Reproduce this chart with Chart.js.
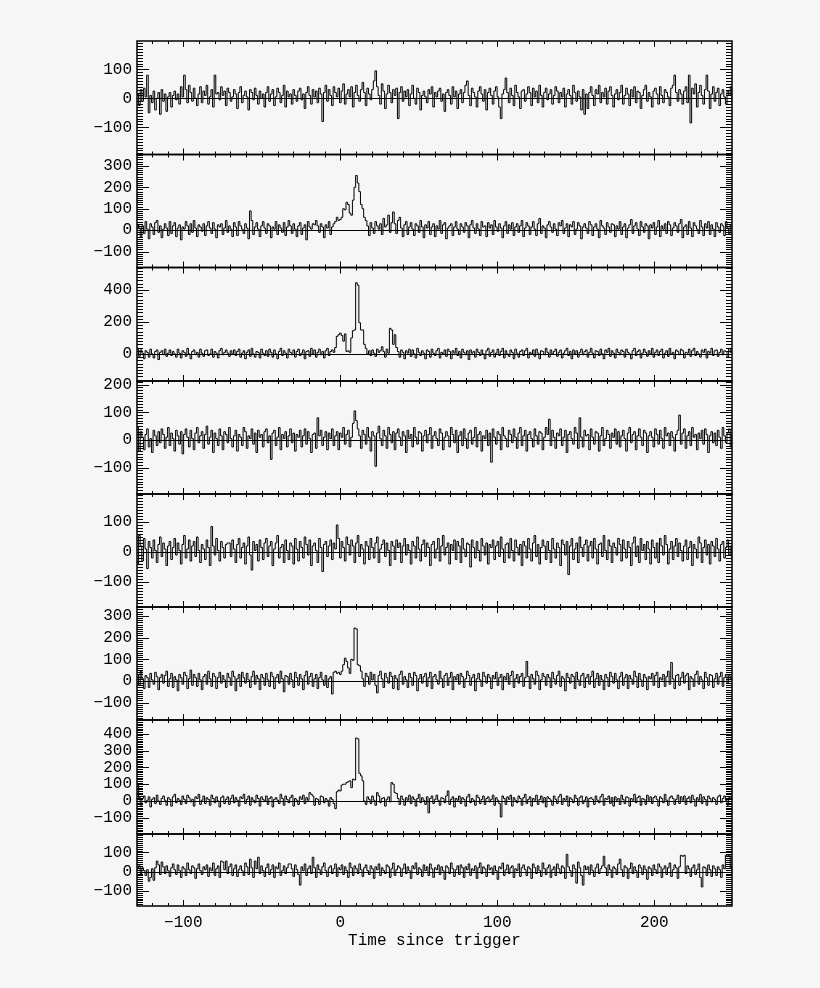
<!DOCTYPE html>
<html>
<head>
<meta charset="utf-8">
<script src="https://cdn.jsdelivr.net/npm/chart.js@4.4.1/dist/chart.umd.min.js"></script>
<style>
  html, body { margin: 0; padding: 0; background: #f6f6f6; }
  #c { display: block; }
</style>
</head>
<body>
<canvas id="c" width="820" height="988"></canvas>
<script>
// time bins, seconds since trigger
const binStart = -129.5;
const binWidth = 1.024;

// counts per bin, one array per detector panel (top to bottom)
const ch1 = [
  15, -25, 30, -10, 35, 5, 80, -50, 10, -15, 25, -40, 0, 20, -55, 30, -10, 15, -45, 5,
  20, -30, 10, 25, -5, 15, -20, 40, 5, 80, 30, -15, 45, 20, -10, 35, 0, -25, 15, 40,
  -15, 25, 10, 45, -20, 5, 30, -30, 80, 15, 20, -5, 40, 10, 25, -25, 35, 20, -10, 5,
  30, 15, -35, 20, 40, -15, 10, 25, 5, -40, 30, 20, -5, 35, 10, -20, 25, 0, 15, -30,
  20, 40, -10, 15, 30, -25, 5, 35, 20, -15, 10, 45, -30, 25, 5, 15, -20, 30, 10, -10,
  25, 35, -5, 15, -35, 20, 40, 10, -20, 30, 5, 25, -15, 35, 15, -80, 20, 45, -10, 30,
  10, -25, 40, 20, 5, 35, -15, 25, 50, -20, 15, 30, 5, 40, -30, 20, 45, 10, -10, 30,
  55, 20, -25, 35, 15, -5, 30, 60, 95, 40, 10, -20, 50, 25, -35, 15, 45, 20, -15, 30,
  10, 35, -70, 20, 40, -10, 25, 5, 30, -25, 15, 45, 0, -20, 35, 20, -40, 10, 25, 5,
  -15, 30, 15, 40, -30, 20, 5, 25, 35, -10, 15, -45, 20, 30, 10, -20, 40, 5, 25, -35,
  15, 30, -15, 20, 45, 60, 10, -25, 35, 20, 5, -30, 25, 40, 15, -10, 30, -40, 20, 35,
  10, -20, 25, 40, 5, -30, -70, 15, 30, 70, 20, -15, 35, 10, -25, 45, 20, 5, -35, 25,
  30, -10, 15, 40, 20, -25, 35, 5, 25, -15, 45, 10, -30, 20, 35, -5, 15, 30, -20, 10,
  40, 25, -15, 20, 5, 35, -30, 15, 30, 10, -20, 45, 20, -10, 25, 5, -40, 30, -55, 15,
  -35, 20, 40, 10, -25, 30, 15, 45, -15, 20, 5, 35, -20, 25, 40, 10, -30, 15, 30, -5,
  20, 45, -20, 10, 35, 15, -25, 30, 5, 40, -15, 25, 20, -35, 10, 30, 45, -10, 20, 5,
  -30, 25, 35, 15, -20, 40, 10, -15, 30, 20, 5, -25, 35, 45, 80, 20, -10, 30, 15, -20,
  25, 40, -15, 80, -85, 35, 15, 50, -30, 20, 45, 10, -20, 30, 80, 25, -35, 15, 40, -10,
  20, 35, -25, 15, 30, 5, -20, 25, 10, 40, -15
];
const ch2 = [
  25, 10, -30, 20, -15, 40, 5, -40, 30, 15, -20, 35, 45, -10, 20, -35, 5, 30, 10, -25,
  40, -15, 20, 35, -30, 10, 25, -45, 15, 5, 40, 20, -20, 30, -10, 45, 10, -30, 25, 15,
  -5, 30, -25, 20, 40, 10, -15, 35, 5, -35, 25, 15, 30, -20, 10, 45, -10, 20, 5, -30,
  35, 15, -25, 40, 20, 5, -15, 30, 10, -40, 90, 45, -20, 15, 35, 5, -30, 20, 40, 10,
  -15, 30, 20, -35, 15, 5, 40, -20, 25, 10, -10, 35, -25, 15, 45, 20, -15, 30, 5, -30,
  20, 35, -20, 10, 25, -45, 40, 15, 5, 30, 25, 45, 20, -10, 30, 15, -35, 25, 10, 40,
  -20, 15, 30, 40, 60, 45, 50, 60, 100, 95, 130, 120, 80, 70, 140, 200, 255, 220, 180, 120,
  100, 60, 45, 20, -25, 35, 10, -15, 40, 20, 5, 30, -20, 55, 15, 25, 70, -10, 35, 85,
  30, -15, 45, 60, 10, -30, 25, 40, -20, 15, 35, 5, -25, 30, 20, -10, 45, 15, -35, 25,
  10, 40, -20, 15, 30, -30, 20, 5, 45, -15, 25, 35, -40, 10, 20, 30, -25, 15, 40, 5,
  -20, 30, 15, -10, 35, 20, -35, 25, 45, 10, -15, 30, 5, -25, 40, 15, 20, -30, 35, 10,
  25, -20, 45, 15, -5, 30, 10, -35, 20, 40, -15, 25, 5, 35, -25, 15, 30, -10, 20, 45,
  -30, 10, 35, 20, -20, 15, 40, 5, -25, 30, 55, -15, 20, 10, -35, 25, 40, 15, -10, 30,
  5, -25, 35, 20, 45, -15, 10, 30, -30, 25, 15, 40, -20, 5, 35, 20, -40, 15, 30, 10,
  -15, 40, 25, -25, 15, 30, 5, -35, 45, 20, 10, -20, 35, 15, -10, 30, 25, -30, 20, 5,
  40, -20, 15, 30, -35, 10, 25, 50, -15, 20, 35, 5, -25, 40, 15, -10, 30, 20, -40, 25,
  10, 35, -20, 15, 45, -30, 20, 5, 30, -15, 40, 25, -25, 10, 35, 20, -10, 30, 50, -35,
  15, 25, -20, 40, 10, -30, 35, 20, 5, -15, 45, 15, -25, 30, 10, 40, -20, 25, 5, -30,
  35, 15, -10, 30, 20, -25, 40, 10, -15, 25, 30
];
const ch3 = [
  35, -15, 25, 5, -30, 20, 10, -20, 30, 0, -25, 15, 25, -35, 10, 20, -5, 30, -15, 5,
  25, -10, 15, 0, -20, 30, 5, -25, 20, 10, -15, 35, 0, -30, 15, 25, -5, 10, -20, 30,
  5, -15, 20, 25, -10, 0, 30, -20, 15, 5, -25, 20, 35, -5, 10, 25, 5, -15, 20, 0,
  25, -10, 15, 30, -20, 5, 20, -30, 10, 25, -15, 35, 0, -20, 15, 10, -25, 30, 5, -10,
  20, -15, 30, 10, -20, 25, 0, -30, 15, 35, -10, 20, 5, -25, 30, 10, -5, 25, -20, 15,
  30, -10, 5, 25, -30, 15, 20, -15, 35, 0, 25, -20, 10, 30, -5, 15, -25, 20, 35, -10,
  15, 25, 10, 40, 110, 120, 130, 115, 80, 125, 15, 20, 10, 100, 145, 150, 445, 430, 195, 150,
  150, 60, 35, 0, 20, -10, 25, 5, -15, 30, 10, 20, 45, 15, -20, 30, 5, 160, 150, 60,
  120, 40, 15, -20, 25, 10, -30, 20, 5, 30, -15, 25, 0, -25, 35, 10, -10, 20, 5, -30,
  25, 15, -20, 30, 5, -10, 20, 35, -25, 10, 0, 25, -15, 30, 15, -30, 20, 5, 35, -10,
  15, -25, 30, 10, -5, 20, -35, 25, 5, 15, -20, 30, 10, -10, 25, 0, -30, 20, 35, -15,
  10, 25, -20, 5, 30, -10, 15, 35, -25, 20, 0, -15, 25, 10, -30, 30, 5, -20, 15, 25,
  -10, 20, 35, -25, 10, 0, 25, -15, 30, 5, -30, 20, 15, -5, 35, 10, -20, 25, 0, 15,
  30, -15, 10, 25, -25, 5, 20, 35, -10, 15, -30, 25, 0, 20, -20, 10, 30, -5, 15, 25,
  -20, 10, 35, 5, -25, 20, 15, -10, 30, 0, -30, 25, 10, 35, -15, 20, 5, -25, 30, 10,
  -5, 25, 15, -20, 30, 10, 0, -30, 20, 35, -10, 15, 25, -25, 5, 30, 10, -15, 20, 0,
  35, -20, 10, 25, -10, 15, 30, -25, 5, 20, -15, 35, 0, 10, -30, 25, 15, -5, 30, 20,
  -25, 10, 5, 30, -15, 20, 35, -10, 15, 0, -20, 25, 10, 30, -25, 15, 5, 35, -10, 20,
  25, -15, 10, 30, -5, 20, 15, -20, 35, 10, 25
];
const ch4 = [
  45, -40, 30, 10, -35, 20, 40, -25, 5, -45, 35, 15, -20, 30, -10, 40, 20, -30, 10, 45,
  -20, 25, 5, -40, 35, 15, -15, 30, -50, 20, 40, 10, -25, 35, 5, -35, 25, 45, -10, 15,
  30, -30, 20, 50, -15, 10, 35, -45, 25, 5, -20, 40, 15, -35, 30, 20, -10, 45, 5, -25,
  15, 35, -40, 20, 10, -20, 45, 30, -30, 15, 5, 40, -15, 25, -45, 35, 10, 20, -25, 30,
  40, -10, 15, -70, 25, 35, -20, 10, 45, -35, 20, 5, 30, -25, 15, 40, -10, 25, -40, 20,
  10, 35, -25, 15, 40, -15, 30, 5, -45, 20, 25, -30, 80, 15, 35, -20, 10, 30, -35, 25,
  5, 40, -20, 15, 30, -35, 25, 10, 45, -15, 20, 35, -25, 10, 60, 105, 70, 40, 15, -30,
  35, 20, -15, 45, 10, -40, 30, 15, -95, 25, 50, 5, -20, 35, 15, -30, 45, 20, -10, 30,
  -35, 25, 40, 10, -20, 30, 15, -45, 35, 5, 20, -25, 45, 10, -15, 30, 25, -40, 15, 35,
  -10, 20, 45, -30, 15, 30, 5, -20, 40, 25, -35, 10, 30, 15, -25, 45, 20, -10, 35, -45,
  15, 30, -20, 40, 5, -30, 25, 35, -15, 10, 45, -25, 20, 30, -40, 15, 5, 35, -20, 25,
  -80, 40, 10, -15, 30, 20, -35, 45, 15, 5, -25, 35, 20, -10, 40, 10, -30, 25, 45, -20,
  15, 35, -40, 20, 30, 5, -25, 40, 15, -15, 30, 25, -35, 10, 45, 20, 75, -20, 35, 10,
  -30, 25, 15, 40, -20, 10, 35, -45, 20, 30, 5, -15, 45, 25, -30, 80, 10, -25, 35, 15,
  20, -35, 40, 10, -15, 30, 25, -40, 15, 45, -20, 5, 35, 20, -30, 25, 10, 40, -15, 30,
  -25, 15, 35, 5, -40, 25, 45, -10, 20, 30, -35, 15, 40, 10, -20, 35, 25, -45, 15, 30,
  10, -25, 40, 20, -15, 35, 5, -30, 45, 15, 25, -20, 30, 10, -40, 20, 35, 90, -15, 25,
  40, -30, 15, 30, -20, 45, 10, 20, -35, 25, 5, 35, -15, 40, 20, -45, 15, 30, -10, 25,
  -20, 35, 10, -30, 45, 15, -10, 25, 40, -25, 20
];
const ch5 = [
  -40, 55, 20, -30, 45, 10, -55, 35, 15, -20, 40, 5, -35, 25, 50, -15, 30, 10, -45, 20,
  35, -25, 15, 45, -10, 30, 5, -40, 25, 55, -20, 10, 40, -30, 20, 35, -15, 50, 5, -35,
  25, 10, -25, 40, 15, -45, 85, 20, -10, 45, 5, -30, 35, 15, -20, 25, 30, 30, -15, 40,
  10, -35, 25, 45, -20, 15, 30, -40, 20, 50, -10, -60, 35, 5, 25, -30, 40, 15, -25, 30,
  45, -15, 20, 35, -45, 10, 30, 55, -20, 15, 25, -35, 40, 5, -25, 30, 20, -40, 45, 10,
  -30, 35, 15, -20, 50, 25, -10, 40, -45, 20, 30, 5, -35, 45, 15, -65, 25, 35, -15, 20,
  40, -25, 30, 10, 90, 45, -20, 35, 15, -30, 50, 25, -10, 40, 20, -35, 30, 55, -15, 25,
  10, -40, 35, 20, -25, 45, 15, -20, 30, 50, -35, 10, 25, 40, -15, 30, 5, -45, 35, 20,
  -25, 40, 15, 30, -35, 20, 45, -10, 25, 5, -40, 35, 20, -20, 50, 10, -30, 25, 40, -15,
  30, 15, -45, 25, 35, -20, 10, 45, -30, 20, 55, -10, 15, 30, -40, 25, 5, 40, -25, 35,
  20, -35, 45, 10, -15, 30, 25, -50, 40, 15, -20, 35, 5, -30, 45, 20, -10, 30, -40, 25,
  15, 40, -25, 20, 35, -15, 50, 10, -35, 25, 30, -20, 45, 5, -30, 40, 15, -10, 25, -45,
  35, 20, -20, 45, 10, -30, 30, 55, -15, 25, -40, 15, 40, 20, -25, 35, 5, -35, 45, 10,
  -20, 30, 15, -45, 40, 25, -10, 35, -75, 20, 45, -25, 10, 30, -35, 50, 15, -15, 25, 40,
  -30, 20, 35, -20, 45, 10, -40, 25, 30, -15, 55, 5, -25, 40, 20, -35, 30, 15, -10, 45,
  25, -30, 40, 10, -20, 35, 15, -45, 30, 50, -15, 20, -35, 45, 5, 25, -25, 35, 10, -40,
  40, 15, -20, 30, -35, 45, 20, -10, 55, 25, -40, 10, 35, -25, 20, 45, -15, 30, 5, -30,
  20, 40, -25, 15, 35, -45, 25, 10, -20, 50, 30, -35, 15, 40, -10, 25, -40, 35, 20, -15,
  45, 10, -30, 25, 35, -20, 15, 40, -10, 20, -25
];
const ch6 = [
  30, -20, 45, 10, -35, 25, 15, -30, 35, 5, -15, 40, 20, -40, 15, 30, -10, 25, 45, -25,
  10, 35, -30, 20, 5, -45, 30, 15, -15, 40, 25, -35, 10, 50, -20, 30, 15, -25, 35, 5,
  -40, 20, 30, -15, 45, 10, -25, 35, 20, -35, 15, 40, -10, 25, 5, -30, 35, 15, -20, 45,
  20, -45, 10, 30, -25, 40, 15, -10, 35, 5, -30, 20, 45, -15, 25, 10, -40, 30, 15, -20,
  35, 5, -25, 40, 20, -35, 15, 30, -10, 45, 10, -50, 25, 20, -15, 35, 5, -30, 40, 15,
  -20, 30, 10, -40, 25, 45, -15, 20, 35, -25, 10, 30, -35, 15, 40, 5, -20, 25, -30, 10,
  20, -60, 40, 45, 35, 40, 30, 45, 75, 105, 90, 60, 35, 100, 95, 244, 240, 75, 70, 45,
  10, -25, 35, 20, -15, 40, 5, 30, -20, -55, 25, 45, 10, -30, 35, 15, -10, 40, 20, -35,
  25, 10, -40, 30, 45, -15, 20, 5, -30, 35, 15, -20, 40, 25, -45, 10, 30, -10, 20, 35,
  -25, 15, 40, -35, 20, 30, 5, -15, 45, 10, -30, 25, 35, -20, 15, 40, -40, 20, 5, 30,
  -15, 35, 20, -30, 10, 45, 25, -20, 15, 30, -45, 10, 35, 5, -25, 40, 20, -10, 30, 15,
  -35, 25, 10, 40, -20, 15, 30, -40, 20, 5, 35, -15, 25, 45, -30, 10, 30, -10, 20, 35,
  -25, 15, 90, 20, -35, 30, 10, -15, 45, 25, -40, 5, 35, 20, -20, 30, 15, -30, 40, 10,
  -15, 25, 45, -25, 20, 10, -45, 35, 15, -10, 30, 20, -35, 40, 5, -20, 25, 35, -30, 15,
  30, -15, 20, 45, -30, 10, 35, -20, 25, 5, -40, 30, 15, -25, 40, 20, -10, 35, 5, -35,
  20, 40, -20, 15, 30, -35, 25, 10, -15, 45, 20, -30, 35, 5, -25, 30, 15, -40, 20, 10,
  35, -20, 25, 40, -30, 15, 5, 30, -25, 20, 45, -15, 85, 10, -35, 25, 30, -20, 15, 40,
  -10, 25, 35, -40, 20, 10, -25, 30, 45, -15, 20, 5, -35, 40, 15, -20, 30, 25, -30, 10,
  35, -15, 20, 40, -25, 15, 30, -10, 25, 5, 20
];
const ch7 = [
  100, 20, -25, 15, 30, -10, 5, 25, -35, 10, 20, -15, 35, 0, -20, 15, 30, 5, -25, 20,
  10, -30, 25, 40, -10, 15, 5, -20, 30, 10, -15, 35, 20, -5, 10, -30, 25, 15, 40, -20,
  5, 30, -15, 20, 10, -25, 35, 15, -10, 25, 0, -35, 20, 30, -15, 10, 25, -20, 15, 35,
  -10, 20, 5, -30, 25, 15, 40, -15, 10, 30, -25, 20, 5, -10, 35, 15, -30, 25, 10, 0,
  30, -20, 15, 25, -35, 10, 20, 5, -15, 40, 15, -25, 30, 10, -10, 20, 35, -30, 15, 5,
  -20, 25, 10, 35, -15, 20, 5, 50, 40, 30, -25, 15, 10, -20, 30, 25, -10, 15, 5, -30,
  20, 10, -15, -45, 55, 65, 60, 95, 100, 100, 110, 115, 120, 80, 130, 125, 375, 370, 165, 150,
  120, 0, -20, 25, 10, -15, 30, 5, -25, 50, 30, -10, 15, 20, -30, 10, 25, -5, 110, 100,
  50, 45, 15, -20, 30, 10, -25, 20, 5, 35, -15, 25, 10, -30, 15, 40, -10, 20, 5, -20,
  25, -70, 15, 30, -15, 10, 35, 5, -25, 20, 15, -10, 30, 60, -20, 10, 25, -35, 15, 5,
  30, -15, 20, 10, -30, 25, 40, -10, 15, 5, -25, 35, 20, -15, 10, 30, -20, 15, 25, -5,
  10, 35, -25, 20, 5, -15, -95, 30, 15, -20, 25, 10, 35, -30, 20, 5, -10, 30, 15, -25,
  20, 40, -15, 10, 25, -30, 15, 5, 35, -20, 10, 30, -10, 20, -35, 25, 15, 5, -25, 30,
  10, -15, 25, 40, -20, 15, 5, 30, -30, 20, 10, -10, 35, 15, -25, 20, 30, -15, 5, 25,
  -35, 15, 20, 10, -20, 30, 5, -10, 25, 40, -25, 15, 10, 30, -15, 20, -30, 25, 5, 15,
  -20, 35, 10, -15, 25, 20, -30, 15, 5, 40, -10, 20, 30, -25, 15, 10, -20, 35, 5, 25,
  -15, 20, 30, 10, -30, 25, 15, -10, 40, 5, -25, 20, 30, 15, -20, 10, 35, -15, 25, 5,
  30, -20, 15, 25, -10, 35, 10, -30, 20, 5, 40, -15, 25, 10, -25, 30, 15, -5, 20, 10,
  -20, 25, 35, -10, 15, 30, 5, -25, 20, 15, 30
];
const ch8 = [
  15, 30, -10, 20, 5, -20, 10, -50, -30, 15, -45, 20, 55, 35, -15, 50, 25, -10, 30, 5,
  -25, 20, 40, 10, -15, 35, 5, -30, 25, 15, -20, 45, 10, -10, 30, 20, -35, 15, 40, 5,
  -15, 25, 10, 35, -25, 20, 5, 45, -20, 15, 30, -30, 55, 50, 10, 55, -10, 25, 40, -20,
  15, 35, -25, 10, 30, 5, -20, 45, 25, -15, 65, 20, -30, 55, 15, 75, -10, 30, 5, -25,
  20, 40, -15, 10, 35, -30, 25, 15, 45, -20, 5, 30, -10, 20, 40, 40, 15, -25, 35, 10,
  -15, -70, 25, 5, 40, -20, 15, 30, -10, 75, 20, -30, 35, 10, -15, 25, 45, 5, -25, 20,
  30, -10, 15, 40, -25, 20, 10, 35, -15, 25, 5, -30, 45, 20, -20, 30, 15, -10, 40, 10,
  -25, 20, 35, 5, -15, 30, 15, -35, 25, 10, 40, -20, 20, 5, -10, 35, 25, -30, 15, 45,
  -20, 10, 30, 20, -25, 15, 40, -10, 25, 5, -35, 30, 15, 45, -15, 20, 10, -25, 35, 5,
  25, -20, 40, 15, -30, 20, 10, 35, -15, 25, 5, -40, 30, 20, -10, 45, 15, -25, 10, 30,
  -15, 35, 20, -30, 25, 10, 40, -20, 15, 5, 30, -35, 20, 45, -10, 25, 15, -25, 35, 10,
  20, -15, 30, 5, -40, 25, 15, 45, -20, 10, 35, -10, 20, 30, -30, 15, 5, 40, -25, 20,
  35, 10, -20, 25, 15, -35, 40, 20, -10, 30, 5, -25, 45, 15, -15, 20, 35, -30, 10, 25,
  -20, 40, 15, -10, 30, 20, -35, 90, 25, 5, -25, 35, 15, -60, 50, 20, -20, -70, 30, 10,
  25, -15, 35, 5, -25, 20, 40, -10, 15, 30, 80, 20, -20, 35, 10, -30, 25, 15, -15, 40,
  65, 10, -25, 30, 20, -35, 15, 45, -10, 25, 5, -30, 35, 20, -15, 30, 10, -40, 25, 15,
  -20, 35, 10, -10, 40, 25, -30, 15, 30, -15, 20, 45, -25, 10, 35, 20, -35, 25, 85, 80,
  85, -10, 30, 15, -25, 20, 35, -15, 10, 40, -30, -80, 25, 20, -20, 35, 10, -25, 30, 15,
  -20, 25, 10, -30, 35, 15, 85, 80, 85, 20, 5
];

// axis ranges and tick labels per panel
const yMin = [-194, -174, -169, -195, -183, -180, -196, -179];
const yMax = [198, 353, 540, 213, 193, 341, 482, 196];
const yTicks = [
  [-100, 0, 100],
  [-100, 0, 100, 200, 300],
  [0, 200, 400],
  [-100, 0, 100, 200],
  [-100, 0, 100],
  [-100, 0, 100, 200, 300],
  [-100, 0, 100, 200, 300, 400],
  [-100, 0, 100],
];
const xMin = -129.5;
const xMax = 249.5;
const xTicks = [-100, 0, 100, 200];

const channels = [ch1, ch2, ch3, ch4, ch5, ch6, ch7, ch8];
const panelHeights = [113.5, 113, 113.5, 113, 113, 113, 114, 72];
const ids = channels.map((c, k) => 'y' + (k + 1));

const font = { family: "'Liberation Mono', 'DejaVu Sans Mono', monospace", size: 16 };
const fmt = (v) => (v < 0 ? '\u2212' + Math.abs(v) : String(v));

// histogram points: left bin edges plus a closing edge
function toSteps(vals) {
  const pts = vals.map((v, i) => ({ x: binStart + i * binWidth, y: v }));
  pts.push({ x: binStart + vals.length * binWidth, y: vals[vals.length - 1] });
  return pts;
}

const datasets = channels.map((vals, k) => ({
  data: toSteps(vals),
  yAxisID: ids[k],
  borderColor: '#000',
  borderWidth: 1,
  stepped: true,
  pointRadius: 0,
  fill: false,
}));

const scales = {
  x: {
    type: 'linear',
    position: 'bottom',
    min: xMin,
    max: xMax,
    grid: { display: false, drawTicks: false },
    border: { display: false },
    afterBuildTicks(s) { s.ticks = xTicks.map((v) => ({ value: v })); },
    ticks: { padding: 7, color: '#000', font, callback: fmt },
    title: { display: true, text: 'Time since trigger', color: '#000', font, padding: { top: 0, bottom: 38 } },
    afterFit(s) { s.height = 82; },
  },
};
ids.forEach((id, k) => {
  scales[id] = {
    type: 'linear',
    position: 'left',
    stack: 'panels',
    stackWeight: panelHeights[k],
    weight: 10 - k,
    min: yMin[k],
    max: yMax[k],
    grid: { display: false, drawTicks: false },
    border: { display: false },
    afterBuildTicks(s) { s.ticks = yTicks[k].map((v) => ({ value: v })); },
    ticks: { autoSkip: false, padding: 5, color: '#000', font, callback: fmt },
    afterFit(s) { s.width = 137; },
  };
});

function seg(ctx, x1, y1, x2, y2) {
  ctx.beginPath();
  ctx.moveTo(x1, y1);
  ctx.lineTo(x2, y2);
  ctx.stroke();
}

// zero lines, frames and inward tick marks like the original plot
const frame = {
  id: 'frame',
  beforeDatasetsDraw(chart) {
    const { ctx, chartArea } = chart;
    ctx.save();
    ctx.strokeStyle = '#000';
    ctx.lineWidth = 1;
    ids.forEach((id) => {
      const y = Math.round(chart.scales[id].getPixelForValue(0)) + 0.5;
      seg(ctx, chartArea.left, y, chartArea.right, y);
    });
    ctx.restore();
  },
  afterDatasetsDraw(chart) {
    const { ctx, chartArea: { left, right } } = chart;
    const xs = chart.scales.x;
    ctx.save();
    ctx.strokeStyle = '#000';
    ids.forEach((id, k) => {
      const s = chart.scales[id];
      ctx.lineWidth = 1;
      const minor = k === 2 ? 20 : 10;
      for (let v = Math.ceil(s.min / minor) * minor; v <= s.max; v += minor) {
        const y = Math.round(s.getPixelForValue(v)) + 0.5;
        const len = yTicks[k].includes(v) ? 12 : 6;
        seg(ctx, left, y, left + len, y);
        seg(ctx, right, y, right - len, y);
      }
      for (let v = -120; v <= 240; v += 10) {
        const px = Math.round(xs.getPixelForValue(v)) + 0.5;
        const len = v % 100 === 0 ? 6 : 3;
        seg(ctx, px, s.top, px, s.top + len);
        seg(ctx, px, s.bottom, px, s.bottom - len);
      }
      ctx.lineWidth = 1.5;
      ctx.strokeRect(left, s.top, right - left, s.bottom - s.top);
    });
    ctx.restore();
  },
};

const myChart = new Chart(document.getElementById('c'), {
  type: 'line',
  data: { datasets },
  options: {
    responsive: false,
    animation: false,
    layout: { padding: { left: 0, right: 88, top: 41, bottom: 0 } },
    plugins: { legend: { display: false }, tooltip: { enabled: false } },
    scales,
  },
  plugins: [frame],
});
</script>
</body>
</html>
